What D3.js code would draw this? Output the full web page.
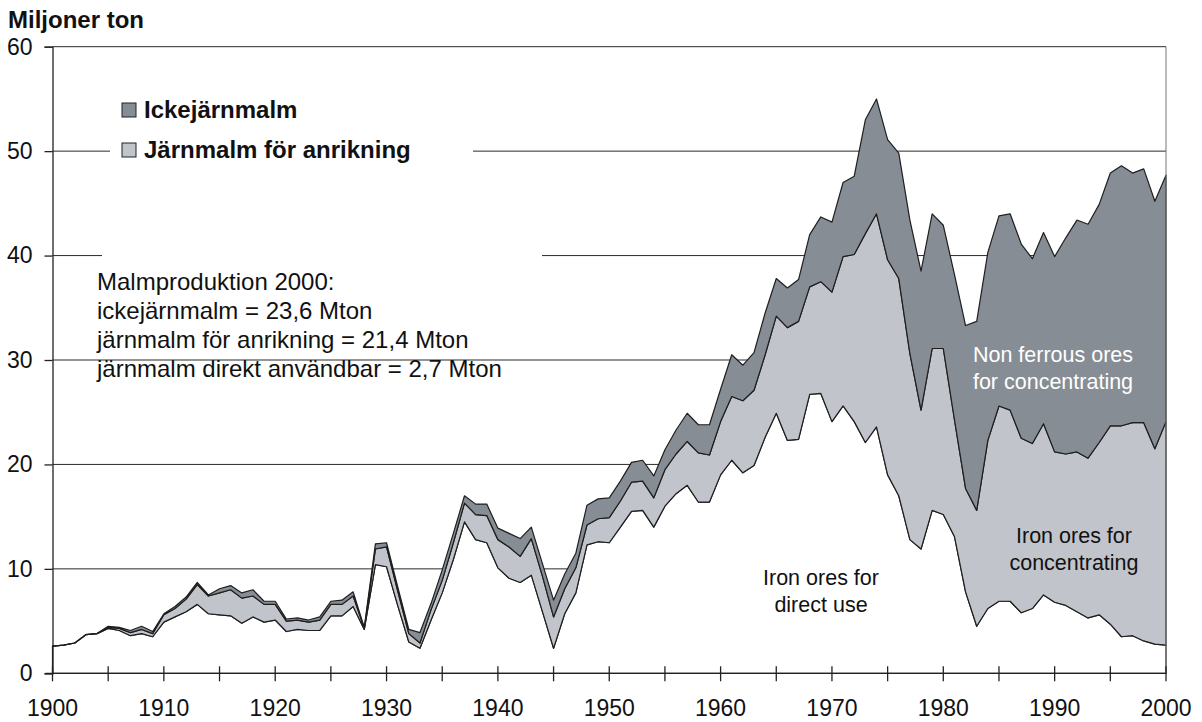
<!DOCTYPE html>
<html>
<head>
<meta charset="utf-8">
<script src="https://cdn.jsdelivr.net/npm/d3@7"></script>
<style>
  body { margin: 0; background: #fff; }
  svg { display: block; }
  text { font-family: "Liberation Sans", Arial, sans-serif; }
</style>
</head>
<body>
<svg id="chart" width="1202" height="722"></svg>
<script>
// Malmproduktion i Sverige 1900-2000, miljoner ton
const years = d3.range(1900, 2001);

// järnmalm direkt användbar
const direct = [
  2.6, 2.7, 2.9, 3.7, 3.8, 4.3, 4.1, 3.6, 3.8, 3.5,
  4.9, 5.4, 5.9, 6.6, 5.7, 5.6, 5.5, 4.8, 5.4, 4.9,
  5.1, 4.0, 4.2, 4.1, 4.1, 5.5, 5.5, 6.4, 4.2, 10.4,
  10.2, 6.5, 3.0, 2.4, 5.1, 7.7, 10.9, 14.5, 12.8, 12.5,
  10.1, 9.1, 8.7, 9.4, 5.9, 2.4, 5.7, 7.7, 12.3, 12.6,
  12.5, 14.0, 15.5, 15.6, 14.0, 16.0, 17.2, 18.0, 16.4, 16.4,
  19.0, 20.4, 19.2, 19.9, 22.6, 24.9, 22.3, 22.4, 26.7, 26.8,
  24.1, 25.6, 24.1, 22.1, 23.6, 19.0, 17.0, 12.8, 11.9, 15.6,
  15.2, 13.1, 7.8, 4.5, 6.2, 6.9, 6.9, 5.8, 6.2, 7.5,
  6.8, 6.5, 5.9, 5.3, 5.6, 4.7, 3.5, 3.6, 3.1, 2.8,
  2.7
];

// järnmalm för anrikning
const ironConc = [
  0, 0, 0, 0, 0, 0.1, 0.2, 0.3, 0.4, 0.3,
  0.7, 0.8, 1.2, 1.9, 1.7, 2.1, 2.5, 2.4, 2.0, 1.7,
  1.5, 1.0, 0.9, 0.8, 1.0, 1.1, 1.1, 1.0, 0.1, 1.5,
  1.9, 1.4, 0.8, 0.5, 1.0, 1.2, 1.6, 1.8, 2.4, 2.6,
  2.7, 3.0, 2.5, 3.5, 3.4, 3.0, 2.4, 2.4, 1.9, 2.2,
  2.4, 2.5, 2.8, 2.8, 2.8, 3.5, 3.8, 4.2, 4.7, 4.5,
  5.1, 6.1, 6.9, 7.2, 7.9, 9.3, 10.8, 11.3, 10.3, 10.7,
  12.4, 14.3, 16.0, 20.0, 20.4, 20.6, 20.8, 17.8, 13.3, 15.5,
  15.9, 11.2, 9.9, 11.1, 16.1, 18.7, 18.3, 16.7, 15.8, 16.4,
  14.4, 14.5, 15.3, 15.3, 16.5, 19.0, 20.2, 20.4, 20.9, 18.7,
  21.4
];

// ickejärnmalm
const nonFerrous = [
  0, 0, 0, 0, 0, 0.1, 0.1, 0.2, 0.3, 0.2,
  0.1, 0.2, 0.2, 0.2, 0.1, 0.4, 0.4, 0.5, 0.6, 0.3,
  0.3, 0.2, 0.2, 0.2, 0.3, 0.3, 0.4, 0.4, 0.1, 0.5,
  0.4, 0.4, 0.4, 1.0, 0.6, 1.0, 0.9, 0.7, 1.0, 1.1,
  1.1, 1.3, 1.7, 1.1, 1.2, 1.6, 1.4, 1.4, 1.9, 1.9,
  1.9, 1.9, 1.9, 2.0, 2.1, 1.9, 2.3, 2.7, 2.7, 2.9,
  3.1, 4.0, 3.4, 3.6, 4.0, 3.6, 3.8, 4.0, 5.0, 6.2,
  6.7, 7.1, 7.5, 10.9, 11.0, 11.5, 12.0, 12.8, 13.3, 12.9,
  11.8, 13.9, 15.6, 18.1, 18.0, 18.2, 18.8, 18.6, 17.7, 18.3,
  18.7, 20.7, 22.2, 22.4, 22.8, 24.2, 24.9, 23.9, 24.3, 23.7,
  23.6
];

const yTicks = [0, 10, 20, 30, 40, 50, 60];
const xLabels = d3.range(1900, 2001, 10);
const xTicks = d3.range(1900, 2001, 5);

const noteLines = [
  "Malmproduktion 2000:",
  "ickejärnmalm = 23,6 Mton",
  "järnmalm för anrikning = 21,4 Mton",
  "järnmalm direkt användbar = 2,7 Mton"
];

const colDark = "#868d94";
const colLight = "#c1c4cb";

const margin = {left: 52.5, right: 36, top: 46.7, bottom: 48.7};
const width = 1202, height = 722;

const svg = d3.select("#chart");

const x = d3.scaleLinear()
  .domain([1900, 2000])
  .range([margin.left, width - margin.right]);

const y = d3.scaleLinear()
  .domain([0, 60])
  .range([height - margin.bottom, margin.top]);

// gridlines
svg.append("g")
  .selectAll("line")
  .data(yTicks.filter(d => d > 0))
  .join("line")
  .attr("x1", x(1900)).attr("x2", x(2000))
  .attr("y1", d => y(d)).attr("y2", d => y(d))
  .attr("stroke", "#2a2a2a").attr("stroke-width", 1);

// white boxes behind legend and note
svg.append("rect")
  .attr("x", 110).attr("y", 85).attr("width", 363).attr("height", 88)
  .attr("fill", "#fff");
svg.append("rect")
  .attr("x", 102).attr("y", 246).attr("width", 440).attr("height", 110)
  .attr("fill", "#fff");

// stacked areas
const table = years.map((yr, i) => ({
  year: yr,
  direct: direct[i],
  ironConc: ironConc[i],
  nonFerrous: nonFerrous[i]
}));

const series = d3.stack()
  .keys(["direct", "ironConc", "nonFerrous"])(table);

const fills = {direct: "#fff", ironConc: colLight, nonFerrous: colDark};

const area = d3.area()
  .x(d => x(d.data.year))
  .y0(d => y(d[0]))
  .y1(d => y(d[1]));

svg.append("g")
  .selectAll("path")
  .data(series)
  .join("path")
  .attr("d", area)
  .attr("fill", d => fills[d.key])
  .attr("stroke", "#1e1e1e")
  .attr("stroke-width", 1.2)
  .attr("stroke-linejoin", "round");

// right border
svg.append("line")
  .attr("x1", x(2000)).attr("x2", x(2000))
  .attr("y1", y(60)).attr("y2", y(0))
  .attr("stroke", "#777").attr("stroke-width", 1);

// y axis
svg.append("g")
  .attr("transform", `translate(${margin.left},0)`)
  .call(d3.axisLeft(y).tickValues(yTicks).tickSize(8).tickPadding(12))
  .call(g => {
    g.select(".domain").attr("stroke", "#222").attr("stroke-width", 1.3);
    g.selectAll(".tick line").attr("stroke", "#222").attr("stroke-width", 1.3);
    g.selectAll("text")
      .attr("fill", "#111")
      .style("font-size", "23px")
      .style("font-family", "'Liberation Sans', Arial, sans-serif");
  });

// x axis
const xAxis = svg.append("g")
  .attr("transform", `translate(0,${y(0)})`);
xAxis.append("line")
  .attr("x1", margin.left - 7).attr("x2", x(2000))
  .attr("stroke", "#222").attr("stroke-width", 1.3);
xAxis.selectAll("line.tick")
  .data(xTicks)
  .join("line")
  .attr("class", "tick")
  .attr("x1", d => x(d)).attr("x2", d => x(d))
  .attr("y1", -7).attr("y2", 8)
  .attr("stroke", "#222").attr("stroke-width", 1.3);
xAxis.selectAll("text")
  .data(xLabels)
  .join("text")
  .attr("x", d => x(d))
  .attr("y", 43)
  .attr("text-anchor", "middle")
  .attr("fill", "#111")
  .style("font-size", "23px")
  .text(d => d);

// unit label
svg.append("text")
  .attr("x", 8).attr("y", 28)
  .attr("font-weight", "bold")
  .attr("fill", "#111")
  .style("font-size", "24px")
  .text("Miljoner ton");

// legend
const legendItems = [
  {label: "Ickejärnmalm", color: colDark},
  {label: "Järnmalm för anrikning", color: colLight}
];
const leg = svg.append("g");
leg.selectAll("rect")
  .data(legendItems)
  .join("rect")
  .attr("x", 122).attr("y", (d, i) => 103 + i * 40)
  .attr("width", 14).attr("height", 14)
  .attr("fill", d => d.color)
  .attr("stroke", "#222").attr("stroke-width", 1);
leg.selectAll("text")
  .data(legendItems)
  .join("text")
  .attr("x", 144).attr("y", (d, i) => 118 + i * 40)
  .attr("font-weight", "bold")
  .attr("fill", "#111")
  .style("font-size", "24px")
  .text(d => d.label);

// note
svg.append("g")
  .selectAll("text")
  .data(noteLines)
  .join("text")
  .attr("x", 97).attr("y", (d, i) => 290 + i * 29)
  .attr("fill", "#111")
  .style("font-size", "24px")
  .text(d => d);

// area labels
const areaLabels = [
  {lines: ["Non ferrous ores", "for concentrating"], cx: 1053, y0: 362, color: "#fff"},
  {lines: ["Iron ores for", "concentrating"], cx: 1074, y0: 543, color: "#111"},
  {lines: ["Iron ores for", "direct use"], cx: 821, y0: 585, color: "#111"}
];
areaLabels.forEach(a => {
  svg.append("g")
    .selectAll("text")
    .data(a.lines)
    .join("text")
    .attr("x", a.cx)
    .attr("y", (d, i) => a.y0 + i * 26.5)
    .attr("text-anchor", "middle")
    .attr("fill", a.color)
    .style("font-size", "21.5px")
    .text(d => d);
});
</script>
</body>
</html>
